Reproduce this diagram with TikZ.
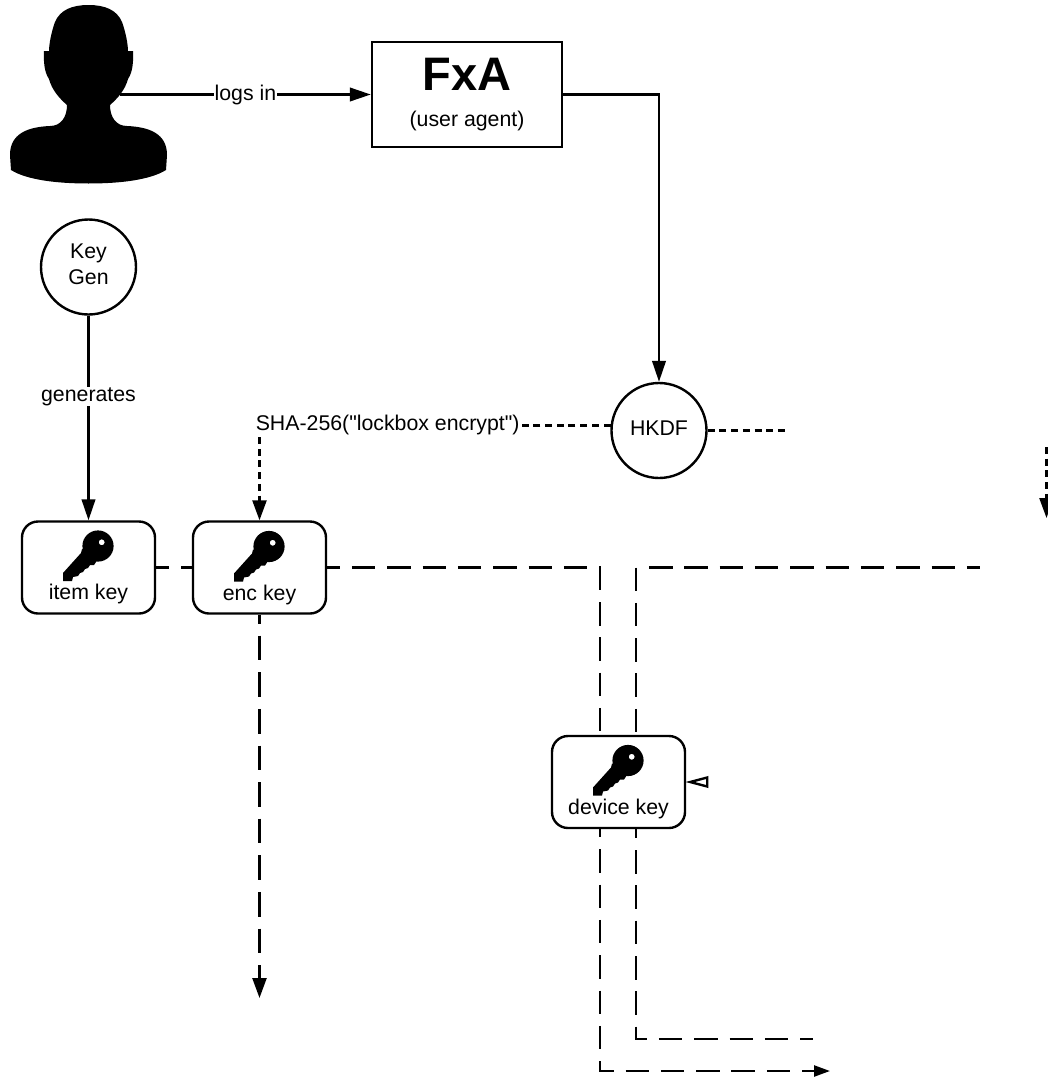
\documentclass[tikz,border=0pt]{standalone}
\usepackage{fontspec}
\setmainfont{Liberation Sans}[Ligatures=TeXOff]
\usepackage{tikz}
\usetikzlibrary{arrows.meta}
\tikzset{
  keybox/.style={draw, rectangle, rounded corners=16pt, line width=2.4pt, minimum width=133pt, minimum height=92pt, fill=white},
  roundbox/.style={draw, circle, line width=2.4pt, minimum size=95pt, inner sep=0pt, align=center, text depth=5.5pt, font=\fontsize{21.3}{25.5}\selectfont},
  keytext/.style={font=\fontsize{21.3}{25}\selectfont, inner sep=0pt},
  edgetext/.style={font=\fontsize{21.3}{25}\selectfont, fill=white, inner sep=0.5pt},
  solidline/.style={line width=2.4pt, -{Stealth[length=21pt,width=13.5pt,inset=0pt]}},
  longdash/.style={line width=2.4pt, dash pattern=on 23.5pt off 11.82pt},
  shortdash/.style={line width=2.4pt, dash pattern=on 7pt off 4.7pt},
  tipped/.style={-{Stealth[length=20pt,width=14pt,inset=0pt]}},
  smalltip/.style={-{Stealth[length=16pt,width=11pt,inset=0pt]}},
  keyicon/.pic={
    \fill[even odd rule] (0,0) circle (15.6pt) (3.7,-3.7) circle (3pt);
    \fill (-16,3) -- (-17,7) -- (-35,27) -- (-35,35) -- (-26,35) -- (-25,31) -- (-20,30) -- (-18,27) -- (-15,26) -- (-13,23) -- (-10,22) -- (-8,19) -- (-4,19) -- (2,10) -- cycle;
  }
}
\begin{document}
\begin{tikzpicture}[x=1pt,y=-1pt]
\useasboundingbox (0,0) rectangle (1048,1079);
% person
\fill (88.5,5) .. controls (105,5) and (117,10) .. (122,22)
  .. controls (126,33) and (128,45) .. (128,51) -- (133,51)
  .. controls (133.5,60) and (133,72) .. (128,79)
  .. controls (125,90) and (118,98) .. (110,105)
  .. controls (110,117) and (116,126) .. (127,126)
  .. controls (150,127) and (167,134) .. (167,155) -- (166,170)
  .. controls (150,180) and (120,183.5) .. (88.5,183.5)
  .. controls (57,183.5) and (27,180) .. (11,170) -- (10,155)
  .. controls (10,134) and (27,127) .. (50,126)
  .. controls (61,126) and (67,117) .. (67,105)
  .. controls (59,98) and (52,90) .. (49,79)
  .. controls (44,72) and (43.5,60) .. (44,51) -- (49,51)
  .. controls (49,45) and (51,33) .. (55,22)
  .. controls (60,10) and (72,5) .. (88.5,5) -- cycle;
\coordinate (user) at (120,94.5);
\node[draw, rectangle, line width=2.4pt, minimum width=190pt, minimum height=105pt, inner sep=0pt, align=center] (fxa) at (467,94.5)
  {{\fontsize{47}{47}\selectfont\bfseries FxA}\\[20pt]{\fontsize{21.3}{25}\selectfont (user agent)}};
\node[roundbox] (keygen) at (88.5,267) {Key\\Gen};
\node[roundbox] (hkdf) at (659,430.5) {HKDF};
% free ends
\coordinate (hkdfend) at (788,430.5);
\coordinate (offtop) at (1046.5,447);
\coordinate (offbot) at (1046.5,518);
\coordinate (encend) at (259.5,998);
\coordinate (corner1) at (600,567.5);
\coordinate (corner2) at (636,567.5);
\coordinate (rowstart) at (649,567.5);
\coordinate (rowend) at (980,567.5);
\coordinate (out1) at (830,1071);
\coordinate (out2) at (813,1039);
% keys, the long lines run behind device
\node[keybox] (item) at (88.5,567.5) {};
\node[keybox] (enc) at (259.5,567.5) {};
\draw [longdash, dash phase=10.56pt, smalltip] (enc.east) -- (corner1) |- (out1);
\draw [longdash] (corner2) |- (out2);
\node[keybox] (device) at (618.5,782) {};
\pic at (98,546) {keyicon};
\pic at (269,546.5) {keyicon};
\pic at (628,760.5) {keyicon};
\node[keytext] (itemtext) at (88.5,594) {item key};
\node[keytext] (enctext) at (259.5,595) {enc key};
\node[keytext] (devicetext) at (618.5,809) {device key};
% connectors
\draw [solidline] (user) -- node[edgetext] (login) {logs in} (fxa.west);
\draw [solidline] (fxa.east) -| (hkdf.north);
\draw [solidline] (keygen.south) -- node[edgetext, pos=0.395] (gen) {generates} (item.north);
\draw [shortdash, tipped] (hkdf.174) -| node[edgetext, pos=0.3175] (sha) {SHA-256("lockbox encrypt")} (enc.north);
\draw [shortdash] (hkdf.east) -- (hkdfend);
\draw [shortdash, tipped] (offtop) -- (offbot);
\draw [longdash, dash phase=10.3pt] (item.east) -- (enc.west);
\draw [longdash] (rowstart) -- (rowend);
\draw [longdash, dash pattern=on 24.6pt off 12pt, dash phase=15.6pt, tipped] (enc.south) -- (encend);
\draw [line width=2.4pt, line join=miter] ([xshift=4pt] device.east) -- ++(17,-4.5) -- ++(0,9) -- cycle;
\end{tikzpicture}
\end{document}
